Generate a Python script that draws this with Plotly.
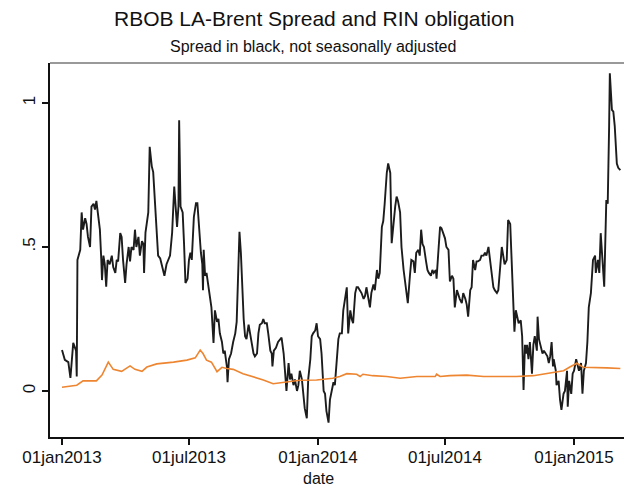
import plotly.graph_objects as go

# ---------------- data ----------------
spread_dates = [
    "2013-01-01", "2013-01-05", "2013-01-10", "2013-01-13", "2013-01-17", "2013-01-21", "2013-01-22", "2013-01-23",
    "2013-01-27", "2013-01-29", "2013-01-31", "2013-02-03", "2013-02-05", "2013-02-07", "2013-02-10", "2013-02-12",
    "2013-02-15", "2013-02-17", "2013-02-19", "2013-02-22", "2013-02-24", "2013-02-26", "2013-02-27", "2013-03-01",
    "2013-03-03", "2013-03-05", "2013-03-07", "2013-03-10", "2013-03-13", "2013-03-15", "2013-03-18", "2013-03-20",
    "2013-03-22", "2013-03-25", "2013-03-27", "2013-03-29", "2013-04-01", "2013-04-03", "2013-04-06", "2013-04-08",
    "2013-04-10", "2013-04-13", "2013-04-15", "2013-04-17", "2013-04-20", "2013-04-22", "2013-04-25", "2013-04-27",
    "2013-04-28", "2013-04-30", "2013-05-02", "2013-05-04", "2013-05-06", "2013-05-09", "2013-05-11", "2013-05-14",
    "2013-05-16", "2013-05-18", "2013-05-21", "2013-05-23", "2013-05-27", "2013-05-30", "2013-06-04", "2013-06-07",
    "2013-06-10", "2013-06-12", "2013-06-14", "2013-06-16", "2013-06-17", "2013-06-19", "2013-06-22", "2013-06-24",
    "2013-06-26", "2013-06-29", "2013-07-01", "2013-07-03", "2013-07-05", "2013-07-08", "2013-07-11", "2013-07-13",
    "2013-07-15", "2013-07-18", "2013-07-20", "2013-07-21", "2013-07-22", "2013-07-24", "2013-07-26", "2013-07-29",
    "2013-07-31", "2013-08-02", "2013-08-05", "2013-08-07", "2013-08-10", "2013-08-12", "2013-08-14", "2013-08-17",
    "2013-08-19", "2013-08-21", "2013-08-24", "2013-08-25", "2013-08-27", "2013-08-30", "2013-09-02", "2013-09-05",
    "2013-09-07", "2013-09-09", "2013-09-11", "2013-09-13", "2013-09-15", "2013-09-17", "2013-09-19", "2013-09-21",
    "2013-09-24", "2013-09-26", "2013-09-28", "2013-10-01", "2013-10-03", "2013-10-06", "2013-10-08", "2013-10-10",
    "2013-10-13", "2013-10-15", "2013-10-17", "2013-10-20", "2013-10-22", "2013-10-25", "2013-10-27", "2013-10-28",
    "2013-10-30", "2013-11-02", "2013-11-05", "2013-11-08", "2013-11-10", "2013-11-13", "2013-11-15", "2013-11-17",
    "2013-11-20", "2013-11-22", "2013-11-24", "2013-11-27", "2013-11-29", "2013-12-02", "2013-12-04", "2013-12-06",
    "2013-12-09", "2013-12-11", "2013-12-13", "2013-12-16", "2013-12-18", "2013-12-21", "2013-12-23", "2013-12-25",
    "2013-12-28", "2013-12-30", "2014-01-01", "2014-01-04", "2014-01-06", "2014-01-09", "2014-01-11", "2014-01-13",
    "2014-01-16", "2014-01-18", "2014-01-21", "2014-01-23", "2014-01-25", "2014-01-28", "2014-01-30", "2014-02-01",
    "2014-02-04", "2014-02-06", "2014-02-08", "2014-02-11", "2014-02-13", "2014-02-16", "2014-02-18", "2014-02-20",
    "2014-02-23", "2014-02-25", "2014-02-27", "2014-03-02", "2014-03-04", "2014-03-07", "2014-03-09", "2014-03-11",
    "2014-03-14", "2014-03-16", "2014-03-18", "2014-03-21", "2014-03-23", "2014-03-26", "2014-03-28", "2014-03-30",
    "2014-04-02", "2014-04-04", "2014-04-06", "2014-04-09", "2014-04-11", "2014-04-14", "2014-04-16", "2014-04-18",
    "2014-04-21", "2014-04-23", "2014-04-25", "2014-04-28", "2014-04-30", "2014-05-03", "2014-05-07", "2014-05-09",
    "2014-05-12", "2014-05-14", "2014-05-17", "2014-05-19", "2014-05-21", "2014-05-24", "2014-05-26", "2014-05-28",
    "2014-05-30", "2014-06-01", "2014-06-04", "2014-06-06", "2014-06-08", "2014-06-11", "2014-06-13", "2014-06-15",
    "2014-06-18", "2014-06-19", "2014-06-22", "2014-06-24", "2014-06-26", "2014-06-29", "2014-07-01", "2014-07-03",
    "2014-07-06", "2014-07-08", "2014-07-11", "2014-07-13", "2014-07-15", "2014-07-18", "2014-07-20", "2014-07-22",
    "2014-07-25", "2014-07-27", "2014-07-30", "2014-08-01", "2014-08-03", "2014-08-06", "2014-08-08", "2014-08-10",
    "2014-08-13", "2014-08-15", "2014-08-17", "2014-08-20", "2014-08-22", "2014-08-25", "2014-08-27", "2014-08-29",
    "2014-09-01", "2014-09-03", "2014-09-06", "2014-09-08", "2014-09-10", "2014-09-13", "2014-09-15", "2014-09-17",
    "2014-09-20", "2014-09-22", "2014-09-24", "2014-09-27", "2014-09-29", "2014-10-02", "2014-10-04", "2014-10-06",
    "2014-10-08", "2014-10-10", "2014-10-12", "2014-10-14", "2014-10-17", "2014-10-19", "2014-10-21", "2014-10-23",
    "2014-10-25", "2014-10-26", "2014-10-28", "2014-10-30", "2014-11-02", "2014-11-04", "2014-11-06", "2014-11-09",
    "2014-11-10", "2014-11-12", "2014-11-14", "2014-11-17", "2014-11-19", "2014-11-22", "2014-11-24", "2014-11-26",
    "2014-11-28", "2014-11-30", "2014-12-02", "2014-12-03", "2014-12-06", "2014-12-07", "2014-12-10", "2014-12-12",
    "2014-12-14", "2014-12-17", "2014-12-19", "2014-12-22", "2014-12-23", "2014-12-25", "2014-12-28", "2014-12-30",
    "2015-01-01", "2015-01-04", "2015-01-06", "2015-01-08", "2015-01-11", "2015-01-13", "2015-01-15", "2015-01-18",
    "2015-01-20", "2015-01-22", "2015-01-25", "2015-01-27", "2015-01-28", "2015-01-31", "2015-02-01", "2015-02-04",
    "2015-02-06", "2015-02-08", "2015-02-11", "2015-02-13", "2015-02-16", "2015-02-18", "2015-02-20", "2015-02-21",
    "2015-02-24", "2015-02-26", "2015-02-28", "2015-03-03", "2015-03-05", "2015-03-08",
]
spread_vals = [
    0.142, 0.108, 0.10, 0.045, 0.167, 0.14, 0.05, 0.455,
    0.49, 0.62, 0.56, 0.60, 0.58, 0.535, 0.50, 0.64,
    0.65, 0.63, 0.66, 0.60, 0.56, 0.455, 0.385, 0.47,
    0.44, 0.362, 0.455, 0.44, 0.47, 0.43, 0.41, 0.455,
    0.45, 0.548, 0.535, 0.455, 0.375, 0.44, 0.50, 0.45,
    0.50, 0.49, 0.56, 0.50, 0.535, 0.47, 0.52, 0.51,
    0.41, 0.55, 0.58, 0.62, 0.848, 0.78, 0.76, 0.64,
    0.535, 0.47, 0.46, 0.44, 0.40, 0.44, 0.47, 0.55,
    0.71, 0.64, 0.57, 0.64, 0.94, 0.64, 0.62, 0.51,
    0.375, 0.39, 0.455, 0.48, 0.455, 0.605, 0.652, 0.652,
    0.57, 0.48, 0.44, 0.35, 0.49, 0.40, 0.41, 0.36,
    0.32, 0.29, 0.167, 0.28, 0.24, 0.25, 0.20, 0.17,
    0.13, 0.14, 0.085, 0.03, 0.11, 0.13, 0.17, 0.20,
    0.24, 0.385, 0.553, 0.48, 0.34, 0.25, 0.19, 0.18,
    0.23, 0.20, 0.18, 0.13, 0.12, 0.13, 0.20, 0.23,
    0.235, 0.25, 0.235, 0.235, 0.20, 0.14, 0.13, 0.085,
    0.14, 0.15, 0.17, 0.18, 0.185, 0.13, 0.05, 0.0,
    0.097, 0.04, 0.06, 0.02, 0.04, 0.0, 0.02, 0.07,
    0.04, -0.01, -0.06, -0.095, 0.04, 0.11, 0.19, 0.20,
    0.21, 0.235, 0.19, 0.18, 0.13, 0.0, -0.01, -0.07,
    -0.11, -0.03, 0.0, 0.03, 0.02, 0.142, 0.18, 0.20,
    0.20, 0.28, 0.32, 0.36, 0.20, 0.28, 0.25, 0.235,
    0.34, 0.36, 0.36, 0.35, 0.34, 0.32, 0.33, 0.36,
    0.32, 0.29, 0.34, 0.37, 0.35, 0.42, 0.39, 0.41,
    0.57, 0.59, 0.65, 0.757, 0.79, 0.757, 0.513, 0.57,
    0.64, 0.675, 0.66, 0.62, 0.50, 0.42, 0.35, 0.305,
    0.40, 0.455, 0.45, 0.41, 0.48, 0.49, 0.47, 0.56,
    0.51, 0.50, 0.45, 0.42, 0.41, 0.40, 0.42, 0.41,
    0.42, 0.39, 0.50, 0.57, 0.565, 0.54, 0.53, 0.50,
    0.49, 0.38, 0.40, 0.39, 0.29, 0.35, 0.33, 0.32,
    0.305, 0.34, 0.32, 0.30, 0.258, 0.35, 0.36, 0.455,
    0.42, 0.45, 0.45, 0.455, 0.47, 0.47, 0.48, 0.47,
    0.50, 0.455, 0.41, 0.36, 0.35, 0.34, 0.35, 0.40,
    0.50, 0.47, 0.44, 0.455, 0.594, 0.58, 0.455, 0.29,
    0.206, 0.28, 0.255, 0.235, 0.245, 0.19, 0.003, 0.16,
    0.13, 0.16, 0.11, 0.17, 0.06, 0.16, 0.19, 0.14,
    0.258, 0.18, 0.16, 0.13, 0.14, 0.13, 0.12, 0.097,
    0.12, 0.17, 0.085, 0.11, 0.07, 0.02, 0.035, -0.03,
    -0.066, -0.01, 0.0, 0.07, -0.055, 0.035, -0.01, 0.06,
    0.07, 0.11, 0.085, 0.07, 0.097, -0.01, 0.07, 0.097,
    0.17, 0.29, 0.34, 0.455, 0.455, 0.47, 0.41, 0.455,
    0.41, 0.548, 0.44, 0.362, 0.663, 0.65, 0.918, 1.103,
    0.976, 0.97, 0.92, 0.79, 0.775, 0.767,
]

rin_dates = [
    "2013-01-01", "2013-01-22", "2013-01-31", "2013-02-19", "2013-02-27", "2013-03-08", "2013-03-15", "2013-03-27",
    "2013-04-08", "2013-04-15", "2013-04-25", "2013-05-02", "2013-05-16", "2013-05-30", "2013-06-09", "2013-06-28",
    "2013-07-10", "2013-07-17", "2013-07-21", "2013-07-26", "2013-08-02", "2013-08-10", "2013-08-17", "2013-08-24",
    "2013-09-02", "2013-09-16", "2013-09-30", "2013-10-15", "2013-10-29", "2013-11-17", "2013-12-06", "2013-12-30",
    "2014-01-22", "2014-02-01", "2014-02-11", "2014-02-25", "2014-03-02", "2014-03-06", "2014-03-20", "2014-04-09",
    "2014-04-28", "2014-05-22", "2014-06-17", "2014-06-19", "2014-06-24", "2014-07-08", "2014-08-01", "2014-08-25",
    "2014-09-17", "2014-10-11", "2014-11-04", "2014-11-18", "2014-12-02", "2014-12-17", "2014-12-26", "2015-01-05",
    "2015-01-14", "2015-01-24", "2015-02-17", "2015-03-08",
]
rin_vals = [
    0.013, 0.02, 0.035, 0.035, 0.055, 0.10, 0.075, 0.068,
    0.087, 0.075, 0.068, 0.083, 0.094, 0.097, 0.10, 0.107,
    0.115, 0.142, 0.13, 0.107, 0.10, 0.067, 0.082, 0.078,
    0.075, 0.06, 0.05, 0.038, 0.025, 0.03, 0.037, 0.038,
    0.044, 0.05, 0.06, 0.058, 0.05, 0.058, 0.053, 0.05,
    0.044, 0.05, 0.05, 0.058, 0.05, 0.053, 0.055, 0.05,
    0.05, 0.05, 0.053, 0.058, 0.063, 0.07, 0.083, 0.096,
    0.082, 0.082, 0.08, 0.078,
]

x_tick_dates = ["2013-01-01", "2013-07-01", "2014-01-01", "2014-07-01", "2015-01-01"]
x_tick_labels = ["01jan2013", "01jul2013", "01jan2014", "01jul2014", "01jan2015"]
y_tick_vals = [0, 0.5, 1]
y_tick_labels = ["0", ".5", "1"]

title_text = "RBOB LA-Brent Spread and RIN obligation"
subtitle_text = "Spread in black, not seasonally adjusted"
x_title = "date"

FONT = "Liberation Sans, Arial, sans-serif"

fig = go.Figure()
fig.add_trace(go.Scatter(x=spread_dates, y=spread_vals, mode="lines",
                         line=dict(color="#1c1c1c", width=1.9), name="spread"))
fig.add_trace(go.Scatter(x=rin_dates, y=rin_vals, mode="lines",
                         line=dict(color="#EE8530", width=1.6), name="RIN"))

fig.update_layout(
    width=624, height=487,
    margin=dict(l=50, r=0, t=63, b=50),
    paper_bgcolor="white", plot_bgcolor="white",
    showlegend=False,
    font=dict(family=FONT, color="#111111"),
    xaxis=dict(
        type="date",
        range=["2012-12-14 21:00", "2015-03-13 05:00"],
        showgrid=False, zeroline=False,
        showline=True, linecolor="#111111", linewidth=2,
        ticks="outside", ticklen=6, tickwidth=1.5, tickcolor="#111111",
        tickvals=x_tick_dates, ticktext=x_tick_labels,
        tickfont=dict(size=17, family=FONT),
        ticklabelstandoff=-2,
    ),
    yaxis=dict(
        range=[-0.16, 1.139],
        showgrid=False, zeroline=False,
        showline=True, linecolor="#111111", linewidth=2,
        ticks="outside", ticklen=6, tickwidth=1.5, tickcolor="#111111",
        tickvals=y_tick_vals, ticktext=y_tick_labels,
        tickangle=-90,
        tickfont=dict(size=17, family=FONT),
    ),
    shapes=[dict(type="line", xref="paper", yref="paper", x0=0, x1=1, y0=1, y1=1,
                 line=dict(color="#777777", width=1.5))],
    annotations=[
        dict(text=title_text, xref="paper", yref="paper", x=0.46, y=1.1203,
             xanchor="center", yanchor="middle", showarrow=False,
             font=dict(size=21, family=FONT, color="#111111")),
        dict(text=subtitle_text, xref="paper", yref="paper", x=0.458, y=1.0428,
             xanchor="center", yanchor="middle", showarrow=False,
             font=dict(size=16, family=FONT, color="#111111")),
        dict(text=x_title, xref="paper", yref="paper", x=0.467, y=-0.11,
             xanchor="center", yanchor="middle", showarrow=False,
             font=dict(size=16, family=FONT, color="#111111")),
    ],
)

fig.write_html("out.html")
